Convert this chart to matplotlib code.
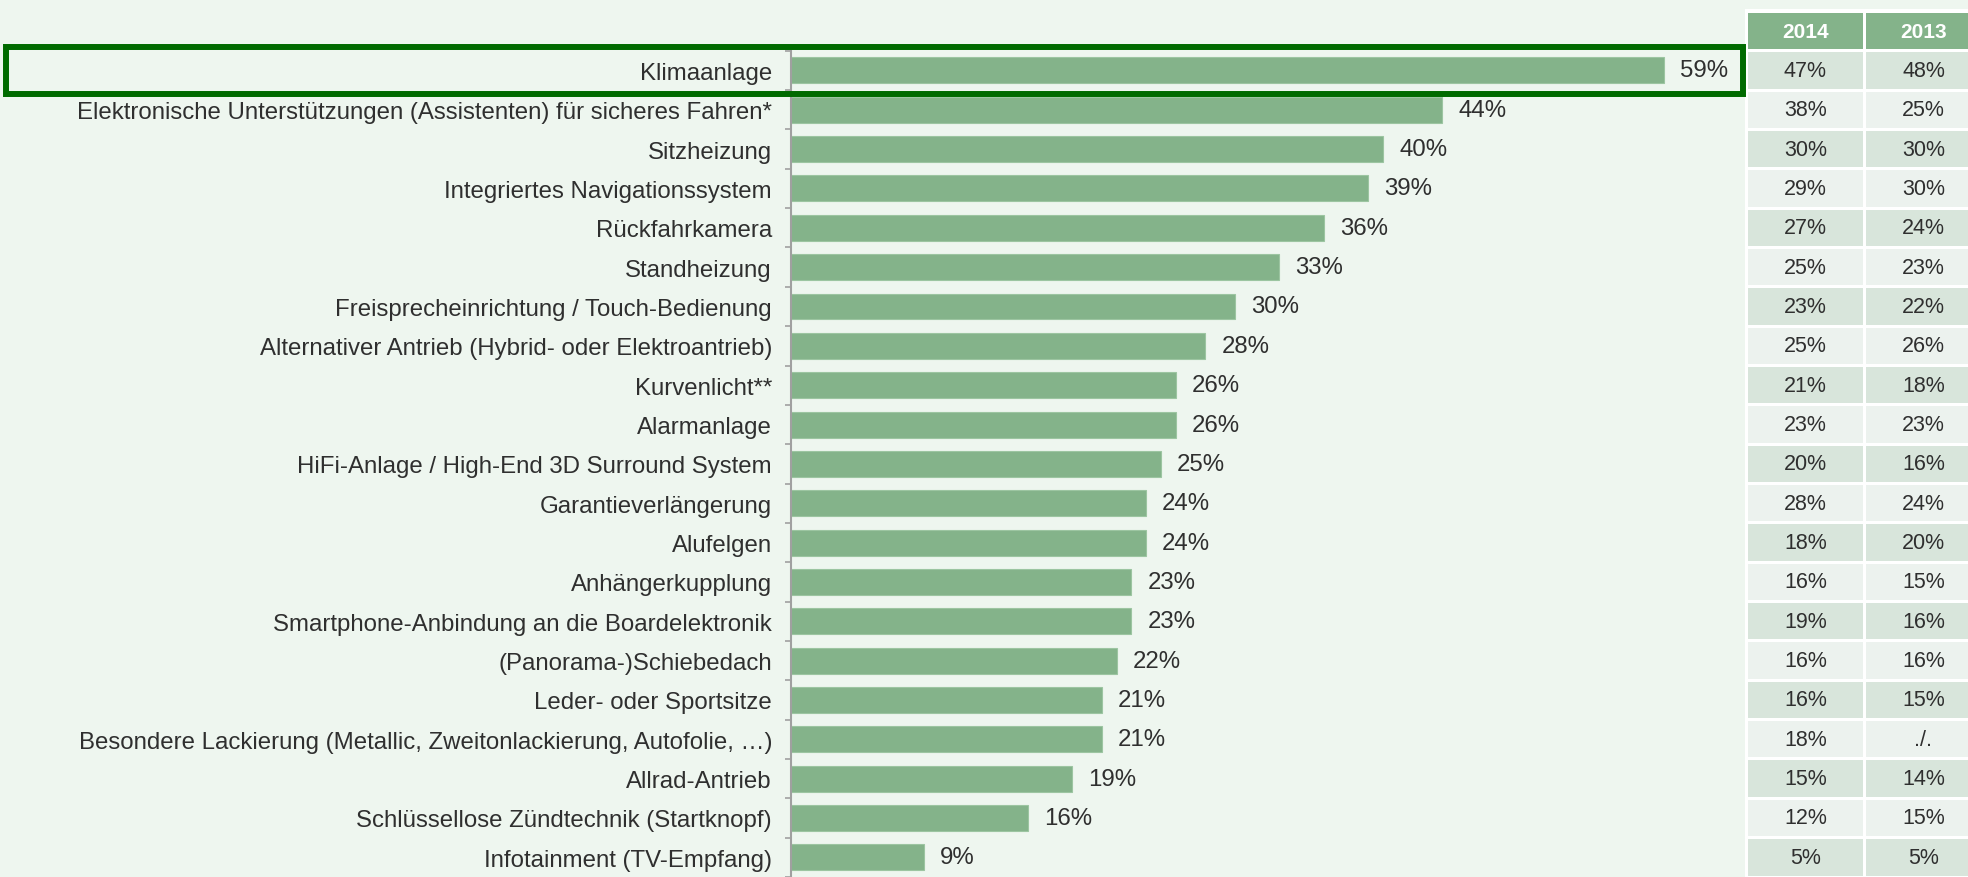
import matplotlib
matplotlib.use("Agg")
import matplotlib.pyplot as plt
from matplotlib.patches import Rectangle
from matplotlib.transforms import blended_transform_factory

categories = [
    "Klimaanlage",
    "Elektronische Unterstützungen (Assistenten) für sicheres Fahren*",
    "Sitzheizung",
    "Integriertes Navigationssystem",
    "Rückfahrkamera",
    "Standheizung",
    "Freisprecheinrichtung / Touch-Bedienung",
    "Alternativer Antrieb (Hybrid- oder Elektroantrieb)",
    "Kurvenlicht**",
    "Alarmanlage",
    "HiFi-Anlage / High-End 3D Surround System",
    "Garantieverlängerung",
    "Alufelgen",
    "Anhängerkupplung",
    "Smartphone-Anbindung an die Boardelektronik",
    "(Panorama-)Schiebedach",
    "Leder- oder Sportsitze",
    "Besondere Lackierung (Metallic, Zweitonlackierung, Autofolie, …)",
    "Allrad-Antrieb",
    "Schlüssellose Zündtechnik (Startknopf)",
    "Infotainment (TV-Empfang)",
]
values_2015 = [59, 44, 40, 39, 36, 33, 30, 28, 26, 26, 25, 24, 24, 23, 23, 22, 21, 21, 19, 16, 9]
table_headers = ["2014", "2013"]
col_2014 = ["47%", "38%", "30%", "29%", "27%", "25%", "23%", "25%", "21%", "23%", "20%",
            "28%", "18%", "16%", "19%", "16%", "16%", "18%", "15%", "12%", "5%"]
col_2013 = ["48%", "25%", "30%", "30%", "24%", "23%", "22%", "26%", "18%", "23%", "16%",
            "24%", "20%", "15%", "16%", "16%", "15%", "./.", "14%", "15%", "5%"]

W, H = 1968, 878
BG = "#eef6ef"
BAR = "#84b38a"
TXT = "#2f2f2f"

plt.rcParams['font.family'] = ['Liberation Sans', 'DejaVu Sans']

fig = plt.figure(figsize=(W / 100, H / 100), dpi=100, facecolor=BG)

ax_left, ax_right = 791, 1745
pitch = 39.5
top_px = 51.75
ax_h_px = H - top_px
ax = fig.add_axes([ax_left / W, 0, (ax_right - ax_left) / W, ax_h_px / H])
ax.set_facecolor("none")
px_per_pct = 14.8
ax.set_xlim(0, (ax_right - ax_left) / px_per_pct)
n = len(categories)
ax.set_ylim(-0.5 + ax_h_px / pitch, -0.5)

ypos = list(range(n))
ax.barh(ypos, values_2015, height=0.66, color=BAR, edgecolor="#9cc5a1", linewidth=0.8, zorder=2)
for y, v in zip(ypos, values_2015):
    ax.text(v + 16 / px_per_pct, y, f"{v}%", va="center", ha="left", fontsize=17.3, color=TXT)

ax.set_yticks(ypos)
ax.set_yticklabels(categories, fontsize=17.3, color=TXT)
ax.set_yticks([i + 0.5 for i in range(-1, n)], minor=True)
ax.tick_params(axis="y", which="major", length=0, pad=19 / 1.389)
ax.tick_params(axis="y", which="minor", length=4.3, width=1.2, color="#a0a0a0", direction="out")
ax.set_xticks([])
for s in ["top", "right", "bottom"]:
    ax.spines[s].set_visible(False)
ax.spines["left"].set_color("#a0a0a0")
ax.spines["left"].set_linewidth(1.5)

# overlay in pixel coords for the table and highlight box
ov = fig.add_axes([0, 0, 1, 1], zorder=5)
ov.set_xlim(0, W)
ov.set_ylim(H, 0)
ov.axis("off")
ov.set_facecolor("none")
tr = blended_transform_factory(ov.transData, ax.transData)

# white backdrop for table
ov.add_patch(Rectangle((1745, 10), W - 1745, H - 10, facecolor="white", edgecolor="none", zorder=1))
col_x = [1748, 1866]
col_w = 115
cell_h = 36.5 / pitch
cols = [col_2014, col_2013]
for c, (x0, head) in enumerate(zip(col_x, table_headers)):
    ov.add_patch(Rectangle((x0, -1 - cell_h / 2), col_w, cell_h, transform=tr,
                           facecolor=BAR, edgecolor="none", zorder=2))
    ov.text(x0 + col_w / 2, -1, head, transform=tr, ha="center", va="center",
            fontsize=15, fontweight="bold", color="white", zorder=3)
    for i, val in enumerate(cols[c]):
        fc = "#d8e5db" if i % 2 == 0 else "#ecf2ee"
        ov.add_patch(Rectangle((x0, i - cell_h / 2), col_w, cell_h, transform=tr,
                               facecolor=fc, edgecolor="none", zorder=2))
        ov.text(x0 + col_w / 2, i, val, transform=tr, ha="center", va="center",
                fontsize=15.5, color=TXT, zorder=3)

# highlight box around first row
ov.add_patch(Rectangle((6, -0.6), 1737, 1.2, transform=tr, facecolor="none",
                       edgecolor="#006a00", linewidth=4.3, zorder=6))

fig.savefig("out.png", dpi=100, facecolor=BG)
